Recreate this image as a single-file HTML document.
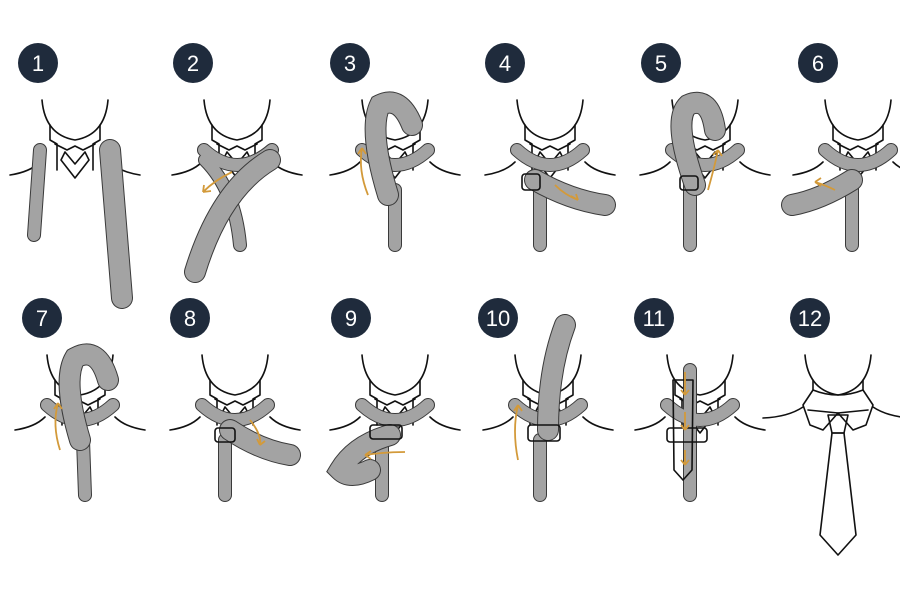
<!DOCTYPE html>
<html><head><meta charset="utf-8"><style>
html,body{margin:0;padding:0;background:#fff;}
svg{display:block;}
.num{font-family:"Liberation Sans",sans-serif;font-size:22px;fill:#fff;text-anchor:middle;font-weight:normal;}
.ln{fill:none;stroke:#111;stroke-width:1.6;stroke-linecap:round;stroke-linejoin:round;}
.to{fill:none;stroke:#3a3a3a;stroke-linecap:round;}
.ti{fill:none;stroke:#a3a3a3;stroke-linecap:round;}
.ar{fill:none;stroke:#d39a3a;stroke-width:1.8;}
</style></head><body>
<svg width="900" height="600" viewBox="0 0 900 600" xmlns="http://www.w3.org/2000/svg">
<defs>
<g id="collar">
  <path class="ln" d="M-33,-30 Q-30,5 0,10 Q30,5 33,-30"/>
  <path class="ln" d="M-25,-5 L-25,10 L-18,14 L-18,40 M25,-5 L25,10 L18,14 L18,40"/>
  <path class="ln" d="M-20,14 L-8,20 L0,16 L8,20 L20,14"/>
  <path class="ln" d="M-10,22 L-14,30 L0,48 L14,30 L10,22 M-10,22 L0,34 L10,22"/>
  <path class="ln" d="M-65,45 Q-45,42 -35,32 M65,45 Q45,42 35,32"/>
</g>
</defs>
<g fill="#1f2b3c">
<circle cx="38" cy="63" r="20"/><circle cx="193" cy="63" r="20"/><circle cx="350" cy="63" r="20"/>
<circle cx="505" cy="63" r="20"/><circle cx="661" cy="63" r="20"/><circle cx="818" cy="63" r="20"/>
<circle cx="42" cy="318" r="20"/><circle cx="190" cy="318" r="20"/><circle cx="351" cy="318" r="20"/>
<circle cx="498" cy="318" r="20"/><circle cx="654" cy="318" r="20"/><circle cx="810" cy="318" r="20"/>
</g>
<g class="num">
<text x="38" y="71">1</text><text x="193" y="71">2</text><text x="350" y="71">3</text>
<text x="505" y="71">4</text><text x="661" y="71">5</text><text x="818" y="71">6</text>
<text x="42" y="326">7</text><text x="190" y="326">8</text><text x="351" y="326">9</text>
<text x="498" y="326">10</text><text x="654" y="326">11</text><text x="810" y="326">12</text>
</g>
<use href="#collar" x="75" y="130"/><use href="#collar" x="237" y="130"/><use href="#collar" x="395" y="130"/>
<use href="#collar" x="550" y="130"/><use href="#collar" x="705" y="130"/><use href="#collar" x="858" y="130"/>
<use href="#collar" x="80" y="385"/><use href="#collar" x="235" y="385"/><use href="#collar" x="395" y="385"/>
<use href="#collar" x="548" y="385"/><use href="#collar" x="700" y="385"/>
<g transform="translate(838,385)">
<path class="ln" d="M-33,-30 Q-30,5 0,10 Q30,5 33,-30"/>
<path class="ln" d="M-25,-5 L-25,5 L-35,20 L-28,40 L-15,45 L0,28 L15,45 L28,40 L35,20 L25,5 L25,-5"/>
<path class="ln" d="M-25,5 Q0,15 25,5 M-30,25 L0,28 L30,25"/>
<path class="ln" d="M-75,33 Q-50,32 -35,22 M75,33 Q50,32 35,22"/>
<path class="ln" fill="#fff" d="M-10,30 L10,30 L6,48 L-6,48 Z"/>
<path class="ln" fill="#fff" d="M-6,48 L6,48 L18,150 L0,170 L-18,150 Z"/>
</g>
<g class="to" stroke-width="14">
<path d="M40,150 L34,235"/>
<path d="M204,150 Q237,180 272,150"/><path d="M205,160 Q235,190 240,245"/>
<path d="M362,150 Q395,180 428,150"/><path d="M395,190 L395,245"/>
<path d="M517,150 Q550,180 583,150"/><path d="M540,180 L540,245"/>
<path d="M672,150 Q705,180 738,150"/><path d="M690,185 L690,245"/>
<path d="M825,150 Q858,180 891,150"/><path d="M852,180 L852,245"/>
<path d="M47,405 Q80,435 113,405"/><path d="M83,440 L85,495"/>
<path d="M202,405 Q235,435 268,405"/><path d="M225,440 L225,495"/>
<path d="M362,405 Q395,435 428,405"/><path d="M382,440 L382,495"/>
<path d="M515,405 Q548,435 581,405"/><path d="M540,440 L540,495"/>
<path d="M667,405 Q700,435 733,405"/><path d="M690,370 L690,495"/>
</g>
<g class="ti" stroke-width="12">
<path d="M40,150 L34,235"/>
<path d="M204,150 Q237,180 272,150"/><path d="M205,160 Q235,190 240,245"/>
<path d="M362,150 Q395,180 428,150"/><path d="M395,190 L395,245"/>
<path d="M517,150 Q550,180 583,150"/><path d="M540,180 L540,245"/>
<path d="M672,150 Q705,180 738,150"/><path d="M690,185 L690,245"/>
<path d="M825,150 Q858,180 891,150"/><path d="M852,180 L852,245"/>
<path d="M47,405 Q80,435 113,405"/><path d="M83,440 L85,495"/>
<path d="M202,405 Q235,435 268,405"/><path d="M225,440 L225,495"/>
<path d="M362,405 Q395,435 428,405"/><path d="M382,440 L382,495"/>
<path d="M515,405 Q548,435 581,405"/><path d="M540,440 L540,495"/>
<path d="M667,405 Q700,435 733,405"/><path d="M690,370 L690,495"/>
</g>
<g class="to" stroke-width="22">
<path d="M110,150 L122,298"/>
<path d="M270,160 Q220,190 195,272"/>
<path d="M388,195 Q368,130 380,105 Q400,95 412,125"/>
<path d="M535,180 Q570,200 605,205"/>
<path d="M695,185 Q672,120 688,105 Q710,95 715,130"/>
<path d="M852,180 Q820,200 792,205"/>
<path d="M80,440 Q62,380 75,358 Q98,345 108,380"/>
<path d="M230,430 Q260,450 290,455"/>
<path d="M390,435 Q355,445 340,470 Q350,480 370,470"/>
<path d="M548,430 Q548,370 565,325"/>
</g>
<g class="ti" stroke-width="20">
<path d="M110,150 L122,298"/>
<path d="M270,160 Q220,190 195,272"/>
<path d="M388,195 Q368,130 380,105 Q400,95 412,125"/>
<path d="M535,180 Q570,200 605,205"/>
<path d="M695,185 Q672,120 688,105 Q710,95 715,130"/>
<path d="M852,180 Q820,200 792,205"/>
<path d="M80,440 Q62,380 75,358 Q98,345 108,380"/>
<path d="M230,430 Q260,450 290,455"/>
<path d="M390,435 Q355,445 340,470 Q350,480 370,470"/>
<path d="M548,430 Q548,370 565,325"/>
</g>
<g class="ln" fill="#f2f2f2">
<rect x="522" y="174" width="18" height="16" rx="3"/>
<rect x="680" y="176" width="18" height="14" rx="3"/>
<rect x="215" y="428" width="20" height="14" rx="3"/>
<rect x="370" y="425" width="32" height="14" rx="3"/>
<rect x="528" y="425" width="32" height="16" rx="3"/>
<path d="M673,380 L693,380 L692,470 L683,480 L674,470 Z"/>
<rect x="667" y="428" width="40" height="14" rx="3"/>
</g>
<g class="ar">
<path d="M232,172 Q215,180 203,192 M203,192 l8,-1 M203,192 l1,-7"/>
<path d="M368,195 Q358,170 362,148 M362,148 l-4,6 M362,148 l4,6"/>
<path d="M555,185 Q565,195 578,200 M578,200 l-7,-4 M578,200 l-2,-6"/>
<path d="M708,190 Q715,165 718,150 M718,150 l-5,5 M718,150 l4,6"/>
<path d="M835,190 Q825,185 815,182 M815,182 l6,-4 M815,182 l6,4"/>
<path d="M60,450 Q52,425 58,403 M58,403 l-4,6 M58,403 l4,6"/>
<path d="M250,420 Q262,435 260,445 M260,445 l-3,-6 M260,445 l5,-4"/>
<path d="M405,452 Q385,452 365,455 M365,455 l6,-4 M365,455 l6,4"/>
<path d="M518,460 Q512,430 518,405 M518,405 l-4,6 M518,405 l4,6"/>
<path d="M685,372 L685,395 M685,395 l-4,-5 M685,395 l4,-5 M685,412 L685,430 M685,430 l-4,-5 M685,430 l4,-5 M685,450 L685,465 M685,465 l-4,-5 M685,465 l4,-5"/>
</g>
</svg>
</body></html>
